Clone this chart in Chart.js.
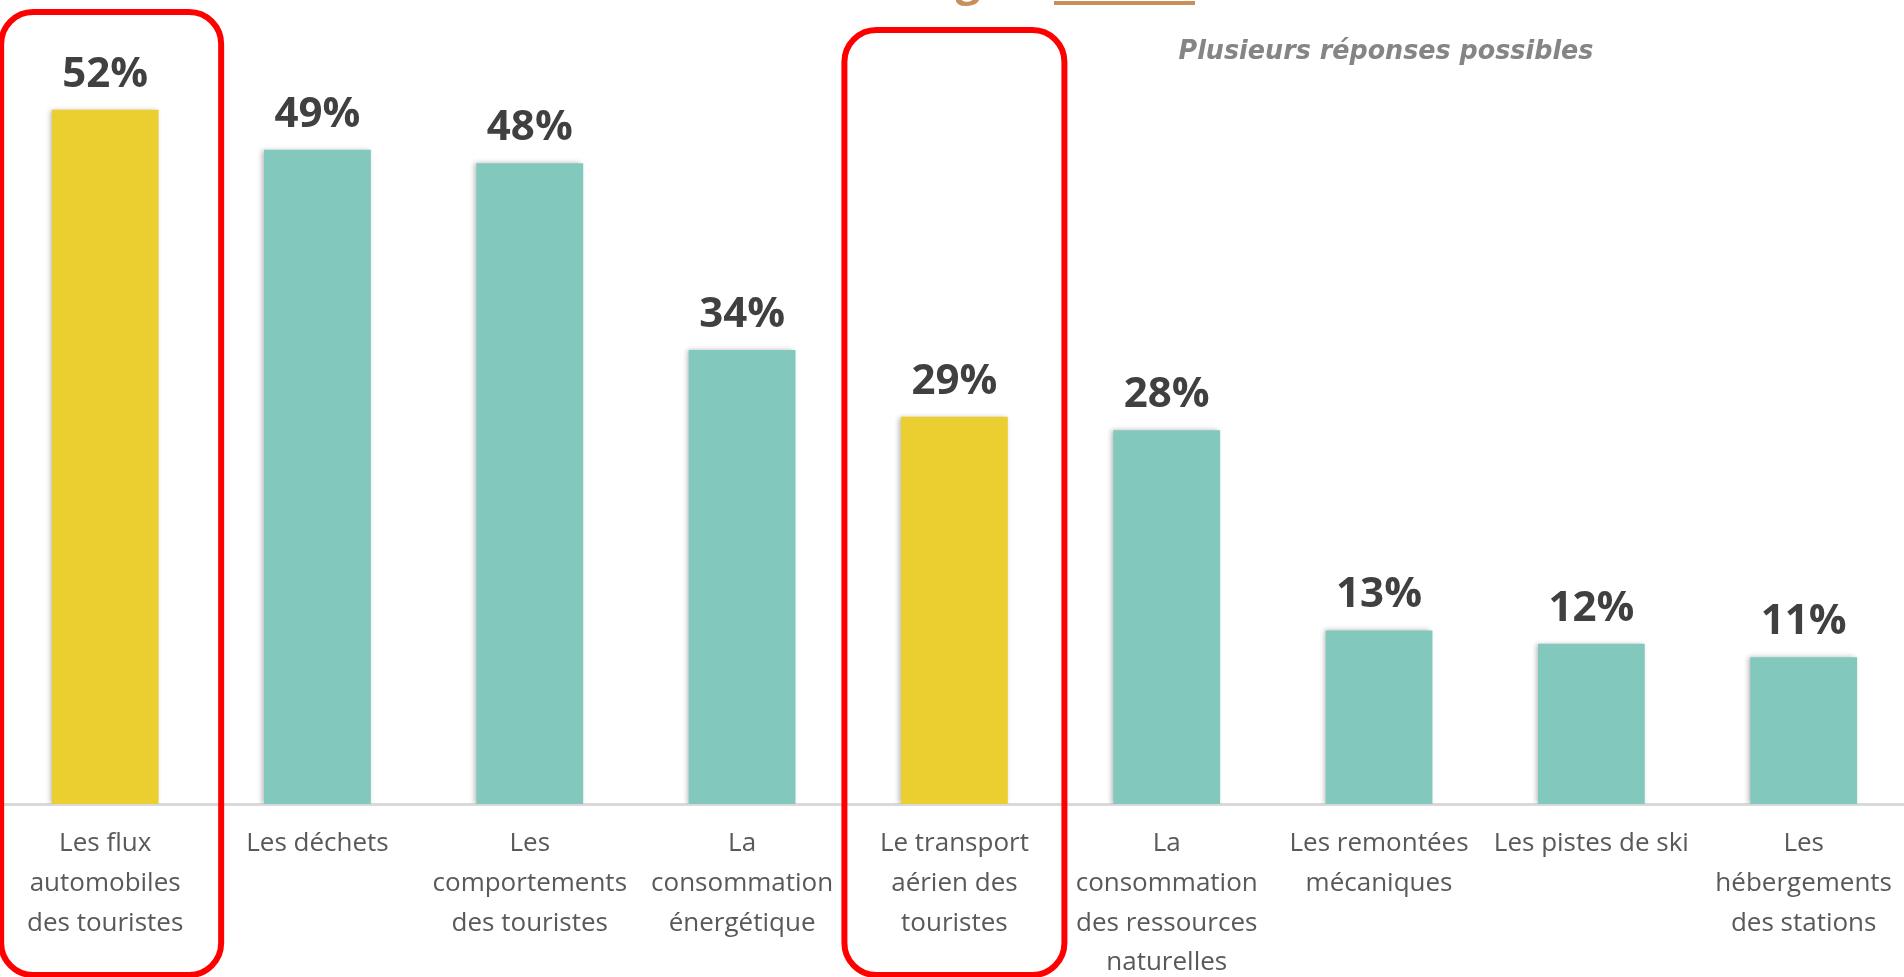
<!DOCTYPE html>
<html>
<head>
<meta charset="utf-8">
<script src="https://cdn.jsdelivr.net/npm/chart.js@4.4.1/dist/chart.umd.min.js"></script>
<style>
  html, body { margin: 0; padding: 0; background: #fff; overflow: hidden; }
  #wrap { position: relative; width: 1904px; height: 977px; overflow: hidden; }
  #inner { position: absolute; left: -1px; top: 0; width: 1913px; height: 977px; }
</style>
</head>
<body>
<div id="wrap"><div id="inner"><canvas id="chart"></canvas></div></div>
<script>
const CATEGORIES = [
    ['Les flux', 'automobiles', 'des touristes'],
    ['Les déchets'],
    ['Les', 'comportements', 'des touristes'],
    ['La', 'consommation', 'énergétique'],
    ['Le transport', 'aérien des', 'touristes'],
    ['La', 'consommation', 'des ressources', 'naturelles'],
    ['Les remontées', 'mécaniques'],
    ['Les pistes de ski'],
    ['Les', 'hébergements', 'des stations']
];
const VALUES = [52, 49, 48, 34, 29, 28, 13, 12, 11];
const HIGHLIGHTED = [0, 4];
const SUBTITLE = 'Plusieurs réponses possibles';

const YELLOW = '#EBCF30';
const TEAL = '#82C8BC';

// Bar colours: highlighted categories in yellow
const barColors = VALUES.map((v, i) => HIGHLIGHTED.includes(i) ? YELLOW : TEAL);

// Soft shadow around bars
const shadowPlugin = {
    id: 'barShadow',
    beforeDatasetsDraw(chart) {
        const ctx = chart.ctx;
        ctx.save();
        ctx.shadowColor = 'rgba(0,0,0,0.28)';
        ctx.shadowBlur = 5;
        ctx.shadowOffsetX = -2;
        ctx.shadowOffsetY = 0;
    },
    afterDatasetsDraw(chart) {
        chart.ctx.restore();
    }
};

// Value labels above bars
const valueLabels = {
    id: 'valueLabels',
    afterDatasetsDraw(chart) {
        const ctx = chart.ctx;
        const meta = chart.getDatasetMeta(0);
        ctx.save();
        ctx.font = 'bold 42px "Open Sans"';
        ctx.fillStyle = '#404040';
        ctx.textAlign = 'center';
        ctx.textBaseline = 'alphabetic';
        meta.data.forEach((bar, i) => {
            ctx.fillText(VALUES[i] + '%', bar.x, bar.y - 23);
        });
        ctx.restore();
    }
};

// Red rounded frames around highlighted categories, plus header bits
const frames = {
    id: 'frames',
    afterDraw(chart) {
        const ctx = chart.ctx;
        const x = chart.scales.x;
        const boxes = [{ idx: HIGHLIGHTED[0], top: 12, shift: 6 }, { idx: HIGHLIGHTED[1], top: 30, shift: 0 }];
        ctx.save();
        ctx.strokeStyle = '#FF0000';
        ctx.lineWidth = 6;
        boxes.forEach(b => {
            const cx = x.getPixelForValue(b.idx) + b.shift;
            ctx.beginPath();
            ctx.roundRect(cx - 110, b.top, 220, 975 - b.top, 32);
            ctx.stroke();
        });

        // cut-off title remnant
        ctx.fillStyle = '#C98F5A';
        ctx.font = 'bold 44px "Open Sans"';
        ctx.textAlign = 'center';
        ctx.textBaseline = 'alphabetic';
        ctx.fillText('g', 969, -5);
        ctx.fillRect(1055, 1, 141, 4);

        // subtitle
        ctx.fillStyle = '#858585';
        ctx.font = 'italic bold 26px "DejaVu Sans"';
        ctx.textAlign = 'center';
        ctx.fillText(SUBTITLE, 1387, 59, 415);
        ctx.restore();
    }
};

new Chart(document.getElementById('chart').getContext('2d'), {
    type: 'bar',
    data: {
        labels: CATEGORIES,
        datasets: [{
            data: VALUES,
            backgroundColor: barColors,
            borderWidth: 0,
            categoryPercentage: 1,
            barPercentage: 0.503
        }]
    },
    options: {
        responsive: true,
        maintainAspectRatio: false,
        animation: false,
        layout: { padding: { left: 0, right: 0, top: 3, bottom: 0 } },
        plugins: { legend: { display: false }, tooltip: { enabled: false } },
        scales: {
            x: {
                grid: { display: false, drawTicks: false },
                border: { display: true, color: '#D9D9D9', width: 3 },
                ticks: {
                    color: '#595959',
                    font: { family: '"Open Sans"', size: 26, lineHeight: 1.527 },
                    padding: 20,
                    maxRotation: 0,
                    autoSkip: false
                },
                afterFit(scale) { scale.height = 173; }
            },
            y: { display: false, min: 0, max: 60 }
        }
    },
    plugins: [shadowPlugin, valueLabels, frames]
});
</script>
</body>
</html>
